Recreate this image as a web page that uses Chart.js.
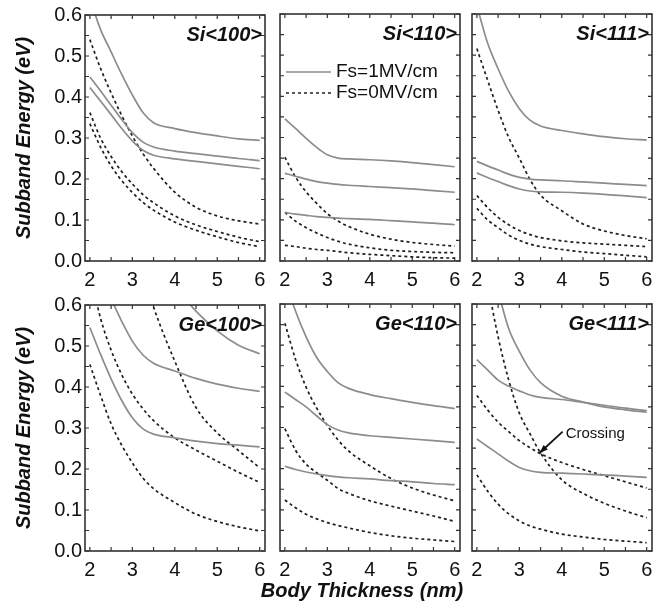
<!DOCTYPE html>
<html><head><meta charset="utf-8">
<script src="https://cdn.jsdelivr.net/npm/chart.js@4.4.1/dist/chart.umd.min.js"></script>
<style>
html,body{margin:0;background:#fff}
#wrap{position:relative;width:662px;height:609px;overflow:hidden}
#wrap canvas{position:absolute}
#xtitle{position:absolute;left:212px;top:580px;width:300px;text-align:center;font:italic bold 20px "Liberation Sans",Arial,sans-serif;line-height:20px;color:#111;white-space:nowrap}
</style></head><body>
<div id="wrap">
<canvas id="c0"></canvas><canvas id="c1"></canvas><canvas id="c2"></canvas>
<canvas id="c3"></canvas><canvas id="c4"></canvas><canvas id="c5"></canvas>
<div id="xtitle">Body Thickness (nm)</div>
</div>
<script>
// body thickness grid (nm), read at these points from each curve
const thickness = [2, 2.25, 2.5, 2.75, 3, 3.25, 3.5, 4, 4.5, 5, 5.5, 6]
const xTicks = [2, 3, 4, 5, 6]
const yTicks = [0, 0.1, 0.2, 0.3, 0.4, 0.5, 0.6]
const xMinor = [2, 2.5, 3, 3.5, 4, 4.5, 5, 5.5, 6]
const yMinor = [0, 0.05, 0.1, 0.15, 0.2, 0.25, 0.3, 0.35, 0.4, 0.45, 0.5, 0.55, 0.6]
const panelNames = ['Si<100>', 'Si<110>', 'Si<111>', 'Ge<100>', 'Ge<110>', 'Ge<111>']
const legendLabels = ['Fs=1MV/cm', 'Fs=0MV/cm']

// subband energies (eV), Fs=1MV/cm (solid) and Fs=0MV/cm (dashed)
const si100Fs1 = [
  [0.64, 0.565, 0.51, 0.455, 0.405, 0.362, 0.337, 0.323, 0.313, 0.305, 0.298, 0.294],
  [0.449, 0.415, 0.38, 0.345, 0.313, 0.29, 0.278, 0.268, 0.262, 0.256, 0.25, 0.245],
  [0.423, 0.39, 0.357, 0.323, 0.293, 0.27, 0.258, 0.249, 0.243, 0.237, 0.231, 0.225]]
const si100Fs0 = [
  [0.54, 0.47, 0.41, 0.355, 0.305, 0.262, 0.226, 0.168, 0.131, 0.11, 0.098, 0.09],
  [0.362, 0.3, 0.255, 0.218, 0.188, 0.162, 0.142, 0.11, 0.088, 0.072, 0.058, 0.047],
  [0.335, 0.278, 0.232, 0.196, 0.167, 0.143, 0.124, 0.095, 0.075, 0.059, 0.045, 0.035]]
const si110Fs1 = [
  [0.345, 0.322, 0.298, 0.276, 0.258, 0.25, 0.248, 0.246, 0.243, 0.239, 0.234, 0.229],
  [0.213, 0.206, 0.199, 0.193, 0.189, 0.186, 0.184, 0.181, 0.178, 0.175, 0.171, 0.167],
  [0.118, 0.114, 0.111, 0.108, 0.106, 0.104, 0.103, 0.101, 0.098, 0.095, 0.092, 0.088]]
const si110Fs0 = [
  [0.252, 0.204, 0.168, 0.14, 0.115, 0.097, 0.084, 0.065, 0.053, 0.045, 0.04, 0.036],
  [0.118, 0.097, 0.081, 0.068, 0.057, 0.048, 0.041, 0.032, 0.026, 0.023, 0.021, 0.02],
  [0.038, 0.035, 0.031, 0.028, 0.026, 0.023, 0.02, 0.016, 0.013, 0.01, 0.008, 0.007]]
const si111Fs1 = [
  [0.62, 0.53, 0.467, 0.412, 0.37, 0.342, 0.328, 0.317, 0.309, 0.302, 0.297, 0.294],
  [0.242, 0.231, 0.221, 0.211, 0.203, 0.199, 0.197, 0.195, 0.192, 0.189, 0.186, 0.183],
  [0.214, 0.203, 0.193, 0.183, 0.175, 0.17, 0.168, 0.167, 0.165, 0.162, 0.158, 0.154]]
const si111Fs0 = [
  [0.516, 0.44, 0.366, 0.3, 0.25, 0.198, 0.16, 0.122, 0.09, 0.073, 0.062, 0.054],
  [0.159, 0.13, 0.106, 0.088, 0.074, 0.064, 0.057, 0.049, 0.044, 0.041, 0.038, 0.035],
  [0.128, 0.1, 0.081, 0.063, 0.05, 0.041, 0.035, 0.028, 0.022, 0.018, 0.014, 0.01]]
const ge100Fs1 = [
  [0.545, 0.48, 0.42, 0.367, 0.325, 0.298, 0.285, 0.276, 0.268, 0.262, 0.258, 0.254],
  [null, null, 0.615, 0.56, 0.512, 0.478, 0.458, 0.439, 0.421, 0.407, 0.397, 0.389],
  [null, null, null, null, null, null, null, 0.645, 0.585, 0.537, 0.502, 0.481]]
const ge100Fs0 = [
  [0.455, 0.38, 0.31, 0.258, 0.215, 0.178, 0.152, 0.118, 0.09, 0.072, 0.059, 0.049],
  [0.68, 0.568, 0.49, 0.43, 0.383, 0.347, 0.318, 0.276, 0.246, 0.219, 0.192, 0.167],
  [null, null, null, null, null, 0.68, 0.595, 0.463, 0.35, 0.288, 0.245, 0.203]]
const ge110Fs1 = [
  [0.66, 0.583, 0.52, 0.47, 0.436, 0.409, 0.395, 0.38, 0.37, 0.361, 0.353, 0.346],
  [0.386, 0.368, 0.35, 0.328, 0.307, 0.294, 0.287, 0.28, 0.276, 0.272, 0.268, 0.264],
  [0.206, 0.198, 0.192, 0.187, 0.183, 0.18, 0.178, 0.175, 0.171, 0.168, 0.164, 0.161]]
const ge110Fs0 = [
  [0.553, 0.466, 0.398, 0.347, 0.305, 0.27, 0.243, 0.207, 0.176, 0.153, 0.136, 0.122],
  [0.297, 0.245, 0.211, 0.19, 0.172, 0.152, 0.14, 0.122, 0.109, 0.097, 0.085, 0.072],
  [0.124, 0.105, 0.089, 0.078, 0.069, 0.062, 0.056, 0.045, 0.037, 0.031, 0.027, 0.023]]
const ge111Fs1 = [
  [null, null, 0.63, 0.54, 0.485, 0.44, 0.409, 0.376, 0.362, 0.35, 0.343, 0.337],
  [0.465, 0.44, 0.415, 0.4, 0.389, 0.379, 0.373, 0.368, 0.361, 0.354, 0.347, 0.341],
  [0.272, 0.254, 0.236, 0.218, 0.203, 0.195, 0.191, 0.189, 0.187, 0.185, 0.182, 0.179]]
const ge111Fs0 = [
  [null, 0.65, 0.52, 0.415, 0.335, 0.285, 0.238, 0.173, 0.14, 0.116, 0.097, 0.081],
  [0.378, 0.343, 0.313, 0.29, 0.268, 0.251, 0.236, 0.215, 0.198, 0.183, 0.168, 0.153],
  [0.185, 0.146, 0.114, 0.09, 0.073, 0.061, 0.053, 0.041, 0.034, 0.028, 0.024, 0.02]]

// "Crossing" arrow in Ge<111>: from label to the crossing point
const crossingFrom = [4.02, 0.29]
const crossingAt = [3.475, 0.238]

const fieldSets = [si100Fs1, si110Fs1, si111Fs1, ge100Fs1, ge110Fs1, ge111Fs1]
const zeroSets = [si100Fs0, si110Fs0, si111Fs0, ge100Fs0, ge110Fs0, ge111Fs0]

const FONT = '"Liberation Sans", Arial, sans-serif'
Chart.defaults.font.family = FONT

// canvas placement so every plot frame lands where it is in the figure
const cols = [{left:0, yw:85, w:277, pr:12}, {left:270, yw:10, w:202, pr:12}, {left:462, yw:10, w:200, pr:10}]

const panelDeco = {
  id:'panelDeco',
  afterDatasetsDraw(chart, args, o){
    const {ctx, chartArea:a, scales:{x, y}} = chart
    ctx.save()
    // frame with inward ticks on all four sides
    ctx.strokeStyle='#333'; ctx.lineWidth=1.6
    ctx.strokeRect(a.left, a.top, a.right-a.left, a.bottom-a.top)
    ctx.lineWidth=1.2
    ctx.beginPath()
    xMinor.forEach(v=>{ const px=x.getPixelForValue(v); ctx.moveTo(px,a.bottom); ctx.lineTo(px,a.bottom-4); ctx.moveTo(px,a.top); ctx.lineTo(px,a.top+4) })
    yMinor.forEach(v=>{ const py=y.getPixelForValue(v); ctx.moveTo(a.left,py); ctx.lineTo(a.left+4,py); ctx.moveTo(a.right,py); ctx.lineTo(a.right-4,py) })
    ctx.stroke()
    // panel name, top right
    ctx.font='italic bold 20px '+FONT
    ctx.fillStyle='#111'; ctx.textAlign='right'; ctx.textBaseline='alphabetic'
    ctx.fillText(o.name, a.right-3, a.top+26)
    if(o.legend){
      const dsets=chart.data.datasets
      const ds=[dsets[0], dsets[dsets.length-1]]
      ctx.font='19px '+FONT; ctx.textAlign='left'; ctx.textBaseline='middle'
      legendLabels.forEach((t,k)=>{
        const ly=a.top+58+k*21
        ctx.strokeStyle=ds[k].borderColor; ctx.lineWidth=ds[k].borderWidth; ctx.setLineDash(ds[k].borderDash||[])
        ctx.beginPath(); ctx.moveTo(a.left+6, ly); ctx.lineTo(a.left+51, ly); ctx.stroke()
        ctx.setLineDash([])
        ctx.fillText(t, a.left+56, ly)
      })
    }
    if(o.crossing){
      const px=x.getPixelForValue(crossingAt[0]), py=y.getPixelForValue(crossingAt[1])
      const qx=x.getPixelForValue(crossingFrom[0]), qy=y.getPixelForValue(crossingFrom[1])
      ctx.strokeStyle='#111'; ctx.lineWidth=1.8
      ctx.beginPath(); ctx.moveTo(qx,qy); ctx.lineTo(px,py); ctx.stroke()
      const ang=Math.atan2(py-qy, px-qx)
      ctx.beginPath(); ctx.moveTo(px,py)
      ctx.lineTo(px-9*Math.cos(ang-0.35), py-9*Math.sin(ang-0.35))
      ctx.lineTo(px-9*Math.cos(ang+0.35), py-9*Math.sin(ang+0.35))
      ctx.closePath(); ctx.fill()
      ctx.font='15px '+FONT; ctx.textAlign='left'; ctx.textBaseline='alphabetic'
      ctx.fillText('Crossing', qx+3, qy+6)
    }
    ctx.restore()
  }
}

function makeChart(i){
  const col=i%3, row=Math.floor(i/3)
  const cv=document.getElementById('c'+i)
  cv.width=cols[col].w; cv.height=300
  cv.style.left=cols[col].left+'px'; cv.style.top=(row*290)+'px'
  const pts=vals=>thickness.map((t,k)=>({x:t, y:vals[k]}))
  const datasets=[]
  fieldSets[i].forEach(v=>datasets.push({data:pts(v), borderColor:'#8c8c8c', borderWidth:1.7}))
  zeroSets[i].forEach(v=>datasets.push({data:pts(v), borderColor:'#1e1e1e', borderWidth:1.7, borderDash:[3,3]}))
  new Chart(cv, {
    type:'line',
    data:{datasets},
    plugins:[panelDeco],
    options:{
      animation:false, responsive:false, devicePixelRatio:1,
      layout:{padding:{top:14, right:cols[col].pr, bottom:0, left:0}},
      elements:{point:{radius:0}, line:{tension:0.4, cubicInterpolationMode:'monotone', fill:false}},
      plugins:{legend:{display:false}, tooltip:{enabled:false},
        panelDeco:{name:panelNames[i], legend:i===1, crossing:i===5}},
      scales:{
        x:{type:'linear', min:1.885, max:6.125,
          grid:{display:false, drawTicks:false}, border:{display:false},
          afterBuildTicks:s=>{ s.ticks=xTicks.map(v=>({value:v})) },
          afterFit:s=>{ s.height=39 },
          ticks:{font:{size:20}, color:'#111', padding:7, maxRotation:0, autoSkip:false}},
        y:{min:0, max:0.6,
          grid:{display:false, drawTicks:false}, border:{display:false},
          afterBuildTicks:s=>{ s.ticks=yTicks.map(v=>({value:v})) },
          afterFit:s=>{ s.width=cols[col].yw },
          ticks:{display:col===0, font:{size:20}, color:'#111', padding:3, callback:v=>v.toFixed(1)},
          title:{display:col===0, text:'Subband Energy (eV)', color:'#111',
            font:{size:20, weight:'bold', style:'italic'}, padding:{top:12, bottom:0}}}
      }
    }
  })
}

for(let i=0;i<6;i++) makeChart(i)
</script>
</body></html>
